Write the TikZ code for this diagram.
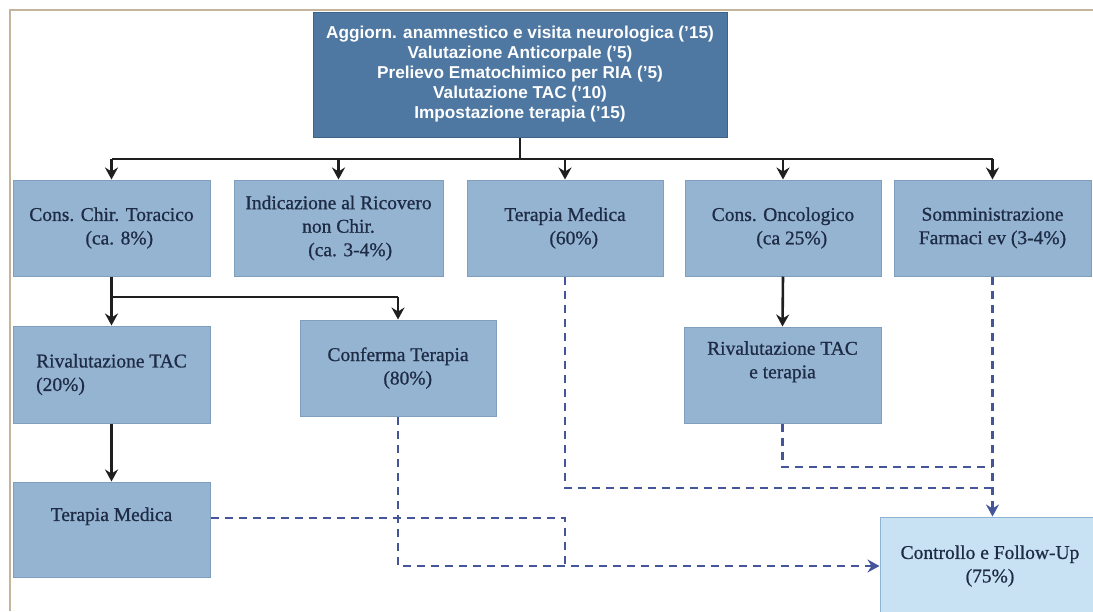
\documentclass[tikz,border=0pt]{standalone}
\usepackage{fontspec}
\setmainfont[FakeBold=0.8]{Liberation Serif}
\setsansfont{Liberation Sans}
\usepackage{xcolor}
\usepackage{tikz}
\usetikzlibrary{arrows.meta,positioning}
\definecolor{visitBlue}{HTML}{4E78A2}
\definecolor{visitEdge}{HTML}{3D6389}
\definecolor{pathBlue}{HTML}{95B4D2}
\definecolor{pathEdge}{HTML}{809FBF}
\definecolor{followBlue}{HTML}{C8E2F4}
\definecolor{followEdge}{HTML}{8FB3D3}
\definecolor{linkBlue}{HTML}{44559A}
\definecolor{frameTan}{HTML}{C4B49C}
\definecolor{textNavy}{HTML}{1E2B45}
\tikzset{
  visit box/.style={draw=visitEdge, fill=visitBlue, line width=1pt,
    align=center, text=white, inner sep=0pt,
    font=\sffamily\bfseries\fontsize{17.2}{20}\selectfont},
  path box/.style={draw=pathEdge, fill=pathBlue, line width=1pt,
    align=center, text=textNavy, inner sep=0pt,
    minimum width=197pt, minimum height=96pt,
    font=\fontsize{19.5}{23.5}\selectfont},
  follow box/.style={path box, draw=followEdge, fill=followBlue,
    minimum width=220pt, minimum height=98pt},
  tree line/.style={line width=2.6pt, draw=black!88},
  tree arrow/.style={tree line, -{Stealth[length=12pt,width=13pt,inset=4pt]}},
  dash link/.style={line width=2.4pt, draw=linkBlue,
    dash pattern=on 8pt off 6pt},
  dash arrow/.style={dash link, -{Stealth[length=12pt,width=13pt,inset=4pt]}}
}

\begin{document}
\begin{tikzpicture}[x=1pt,y=-1pt]
  \useasboundingbox (0,0) rectangle (1093,611);
  \draw[frameTan, line width=1.5pt] (10,611) -- (10,10) -- (1093,10);

  \node[visit box, minimum width=414pt, minimum height=125pt] (visit)
    at (520,74.5)
    {Aggiorn. anamnestico e visita neurologica ('15)\\
     Valutazione Anticorpale ('5)\\
     Prelievo Ematochimico per RIA ('5)\\
     Valutazione TAC ('10)\\
     Impostazione terapia ('15)};

  \node[path box] (chir) at (111.5,228)
    {Cons. Chir. Toracico\\\hspace*{0.8em}(ca. 8\%)};
  \node[path box, minimum width=209pt] (ricov) at (338.5,228)
    {Indicazione al Ricovero\\non Chir.\\\hspace*{1.2em}(ca. 3-4\%)};
  \node[path box, minimum width=196pt] (medica) at (565,228)
    {Terapia Medica\\\hspace*{0.9em}(60\%)};
  \node[path box, minimum width=196pt] (onco) at (783,228)
    {Cons. Oncologico\\\hspace*{0.9em}(ca 25\%)};
  \node[path box] (farmaci) at (992.5,228)
    {Somministrazione\\Farmaci ev (3-4\%)};

  \node[path box, align=left, minimum height=97pt] (rivTac) at (111.5,374.5)
    {Rivalutazione TAC\\(20\%)};
  \node[path box, minimum width=196pt] (conferma) at (398,368)
    {Conferma Terapia\\\hspace*{1em}(80\%)};
  \node[path box] (rivTer) at (782.5,375)
    {Rivalutazione TAC\\e terapia\\\strut};
  \node[path box, minimum height=95pt] (medicaB) at (111.5,529.5)
    {Terapia Medica\\\strut};
  \node[follow box] (follow) at (990,566)
    {Controllo e Follow-Up\\(75\%)};

  \coordinate (bus1) at (520,159);
  \coordinate (bus2) at (112,297);
  \coordinate (jE) at (992,467);
  \coordinate (jM) at (992,488);

  \draw[tree line] (visit.south) -- (bus1);
  \draw[tree line] (chir.north |- bus1) -- (farmaci.north |- bus1);
  \foreach \n in {chir,ricov,medica,onco,farmaci}
    \draw[tree arrow] (\n.north |- bus1) -- (\n.north);

  \draw[tree line] (chir.south) -- (chir.south |- bus2)
    -- (conferma.north |- bus2);
  \draw[tree arrow] (chir.south |- bus2) -- (rivTac.north);
  \draw[tree arrow] (conferma.north |- bus2) -- (conferma.north);
  \draw[tree arrow] (onco.south) -- (rivTer.north);
  \draw[tree arrow] (rivTac.south) -- (medicaB.north);

  \draw[dash arrow] (farmaci.south) -- (farmaci.south |- follow.north);
  \draw[dash link] (rivTer.south) |- (jE);
  \draw[dash link] (medica.south) |- (jM);
  \draw[dash link] ([yshift=11.5pt]medicaB.east) -| (medica.south |- follow.west);
  \draw[dash arrow] (conferma.south) |- (follow.west);
\end{tikzpicture}
\end{document}
